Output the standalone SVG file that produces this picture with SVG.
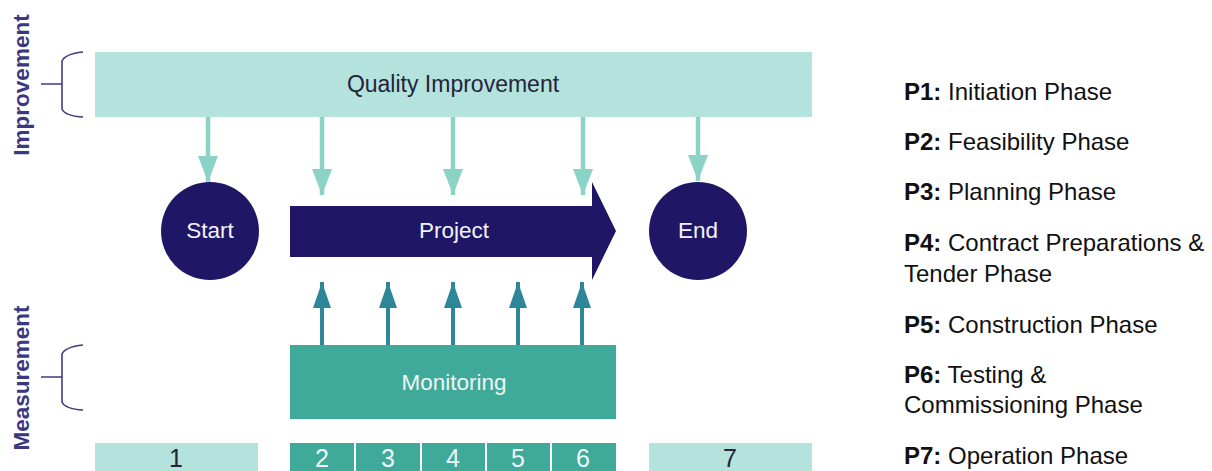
<svg xmlns="http://www.w3.org/2000/svg" width="1212" height="471" viewBox="0 0 1212 471">
  <style>
    .lbl { font-family: "Liberation Sans", Arial, sans-serif; text-anchor: middle; }
    .dark { fill: #24243a; }
    .light { fill: #eef7f5; }
    .side { font-family: "Liberation Sans", Arial, sans-serif; font-weight: bold; font-size: 22.5px; fill: #3b3882; text-anchor: middle; }
    .brace { fill: none; stroke: #3f3d80; stroke-width: 1.6; }
    .legend { font-family: "Liberation Sans", Arial, sans-serif; font-size: 24px; fill: #111; }
    .legend tspan.k { font-weight: bold; }
    .up { stroke: #8ad3c6; stroke-width: 4.5; fill: none; }
    .mon { stroke: #2e8799; stroke-width: 4; fill: none; }
  </style>
  <defs>
    <marker id="headLight" markerUnits="userSpaceOnUse" viewBox="0 0 26 20" refX="26" refY="10" markerWidth="26" markerHeight="20" orient="auto">
      <path d="M0,0 L26,10 L0,20 Z" fill="#8ad3c6"/>
    </marker>
    <marker id="headDark" markerUnits="userSpaceOnUse" viewBox="0 0 26 18" refX="26" refY="9" markerWidth="26" markerHeight="18" orient="auto">
      <path d="M0,0 L26,9 L0,18 Z" fill="#2e8799"/>
    </marker>
  </defs>

  <rect width="1212" height="471" fill="#ffffff"/>

  <!-- side labels with braces -->
  <g id="improvement-label">
    <text class="side" transform="translate(29,85) rotate(-90)">Improvement</text>
    <path class="brace" d="M83,52 Q65,54 62,61 L62,109 Q65,116 83,117 M41,84 L62,84"/>
  </g>
  <g id="measurement-label">
    <text class="side" transform="translate(29,378) rotate(-90)">Measurement</text>
    <path class="brace" d="M83,345 Q65,347 62,354 L62,402 Q65,409 83,410 M41,377 L62,377"/>
  </g>

  <!-- connectors -->
  <g id="connectors">
    <line class="up" x1="208" y1="117" x2="208" y2="182" marker-end="url(#headLight)"/>
    <line class="up" x1="322" y1="117" x2="322" y2="195" marker-end="url(#headLight)"/>
    <line class="up" x1="453" y1="117" x2="453" y2="195" marker-end="url(#headLight)"/>
    <line class="up" x1="583" y1="117" x2="583" y2="195" marker-end="url(#headLight)"/>
    <line class="up" x1="698" y1="117" x2="698" y2="181" marker-end="url(#headLight)"/>
    <line class="mon" x1="322" y1="345" x2="322" y2="282" marker-end="url(#headDark)"/>
    <line class="mon" x1="388" y1="345" x2="388" y2="282" marker-end="url(#headDark)"/>
    <line class="mon" x1="453" y1="345" x2="453" y2="282" marker-end="url(#headDark)"/>
    <line class="mon" x1="518" y1="345" x2="518" y2="282" marker-end="url(#headDark)"/>
    <line class="mon" x1="582" y1="345" x2="582" y2="282" marker-end="url(#headDark)"/>
  </g>

  <!-- nodes -->
  <g id="quality-improvement">
    <rect x="95" y="52" width="717" height="65" fill="#b4e3dd"/>
    <text class="lbl dark" x="453" y="92" font-size="23">Quality Improvement</text>
  </g>
  <g id="start">
    <circle cx="210" cy="231" r="49" fill="#1f1766"/>
    <text class="lbl" x="210" y="238" font-size="22.5" fill="#f4f2fb">Start</text>
  </g>
  <g id="project">
    <path d="M290,206 L592,206 L592,182 L616,231 L592,280 L592,257 L290,257 Z" fill="#1f1766"/>
    <text class="lbl" x="454" y="238" font-size="22.5" fill="#f4f2fb">Project</text>
  </g>
  <g id="end">
    <circle cx="698" cy="231" r="49" fill="#1f1766"/>
    <text class="lbl" x="698" y="238" font-size="22.5" fill="#f4f2fb">End</text>
  </g>
  <g id="monitoring">
    <rect x="290" y="345" width="326" height="74" fill="#3fa99a"/>
    <text class="lbl light" x="454" y="390" font-size="22.5">Monitoring</text>
  </g>

  <!-- phase strip -->
  <g id="phase-1">
    <rect x="95" y="443" width="163" height="40" fill="#b4e3dd"/>
    <text class="lbl dark" x="176" y="467" font-size="25">1</text>
  </g>
  <g id="phases-2-6">
    <rect x="290" y="443" width="64" height="40" fill="#3fa99a"/>
    <rect x="356" y="443" width="64" height="40" fill="#3fa99a"/>
    <rect x="422" y="443" width="63" height="40" fill="#3fa99a"/>
    <rect x="487" y="443" width="63" height="40" fill="#3fa99a"/>
    <rect x="552" y="443" width="64" height="40" fill="#3fa99a"/>
    <text class="lbl light" x="322" y="467" font-size="25">2</text>
    <text class="lbl light" x="388" y="467" font-size="25">3</text>
    <text class="lbl light" x="453" y="467" font-size="25">4</text>
    <text class="lbl light" x="518" y="467" font-size="25">5</text>
    <text class="lbl light" x="583" y="467" font-size="25">6</text>
  </g>
  <g id="phase-7">
    <rect x="649" y="443" width="163" height="40" fill="#b4e3dd"/>
    <text class="lbl dark" x="730" y="467" font-size="25">7</text>
  </g>

  <!-- legend -->
  <g id="legend" class="legend">
    <text x="904" y="100"><tspan class="k">P1:</tspan> Initiation Phase</text>
    <text x="904" y="150"><tspan class="k">P2:</tspan> Feasibility Phase</text>
    <text x="904" y="200"><tspan class="k">P3:</tspan> Planning Phase</text>
    <text x="904" y="251"><tspan class="k">P4:</tspan> Contract Preparations &amp;</text>
    <text x="904" y="282">Tender Phase</text>
    <text x="904" y="333"><tspan class="k">P5:</tspan> Construction Phase</text>
    <text x="904" y="383"><tspan class="k">P6:</tspan> Testing &amp;</text>
    <text x="904" y="413">Commissioning Phase</text>
    <text x="904" y="464"><tspan class="k">P7:</tspan> Operation Phase</text>
  </g>
</svg>
